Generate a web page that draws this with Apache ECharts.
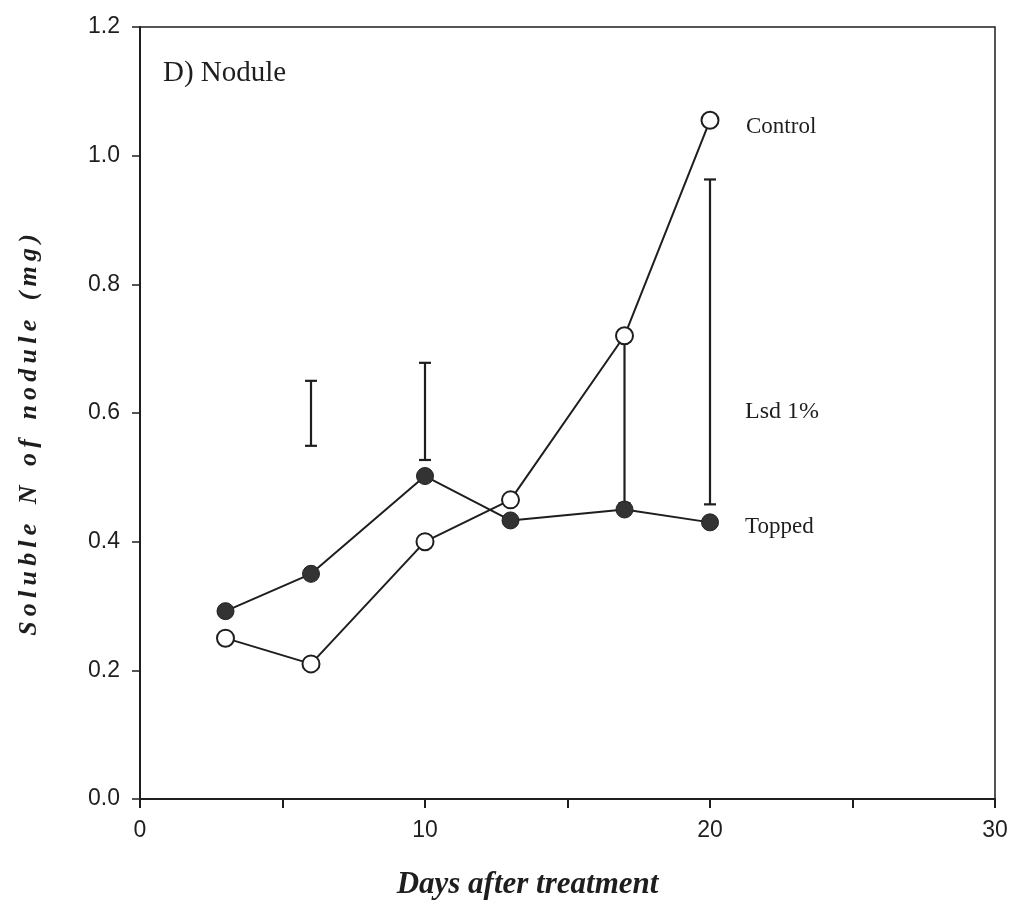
<!DOCTYPE html>
<html lang="en">
<head>
<meta charset="UTF-8">
<title>Soluble N of nodule</title>
<style>
  html, body { margin: 0; padding: 0; background: #fff; }
</style>
</head>
<body>
<div id="main" style="width: 1014px; height: 913px;"></div>

<script src="https://cdn.jsdelivr.net/npm/echarts@6/dist/echarts.min.js"></script>
<script>
// days after treatment
var days = [3, 6, 10, 13, 17, 20];
// soluble N of nodule (mg)
var control = [0.25, 0.21, 0.40, 0.465, 0.72, 1.055];
var topped = [0.292, 0.35, 0.502, 0.433, 0.45, 0.43];
// Lsd 1% bars
var lsdDays = [6, 10, 17, 20];
var lsdLow = [0.549, 0.527, 0.46, 0.458];
var lsdHigh = [0.65, 0.678, 0.72, 0.963];
var yTicks = [0, 0.2, 0.4, 0.6, 0.8, 1.0, 1.2];

var serif = '"Liberation Serif", "DejaVu Serif", serif';
var sans = '"Liberation Sans", Arial, sans-serif';
var ink = '#1e1e1e';

var myChart = echarts.init(document.getElementById('main'));

function pairs(xs, ys) {
    var out = [];
    for (var i = 0; i < xs.length; i++) out.push([xs[i], ys[i]]);
    return out;
}

// spread the letters a little, like the typeset original
function spaced(s) {
    return s.split('').join('\u2009');
}

var lsdData = [];
for (var i = 0; i < lsdDays.length; i++) {
    lsdData.push([lsdDays[i], lsdLow[i], lsdHigh[i]]);
}

function note(text, x, y, size) {
    return {
        type: 'text', x: x, y: y,
        style: { text: text, font: size + 'px ' + serif, fill: ink, verticalAlign: 'middle' }
    };
}

option = {
    animation: false,
    backgroundColor: '#fff',
    grid: {
        left: 140,
        right: 19,
        top: 27,
        bottom: 114,
        show: true,
        borderColor: ink,
        borderWidth: 1.5
    },
    xAxis: {
        type: 'value',
        min: 0,
        max: 30,
        interval: 5,
        name: 'Days after treatment',
        nameLocation: 'middle',
        nameGap: 70,
        nameTextStyle: {
            fontFamily: serif,
            fontStyle: 'italic',
            fontWeight: 'bold',
            fontSize: 31,
            color: ink,
            padding: [0, 80, 0, 0]
        },
        axisLine: { lineStyle: { color: ink, width: 2 } },
        axisTick: { inside: false, length: 9, lineStyle: { color: ink, width: 2 } },
        axisLabel: {
            margin: 20,
            fontFamily: sans,
            fontSize: 23,
            color: ink,
            formatter: function (v) {
                return v % 10 === 0 ? String(v) : '';
            }
        },
        splitLine: { show: false }
    },
    yAxis: {
        type: 'value',
        min: 0,
        max: 1.2,
        interval: 0.2,
        name: spaced('Soluble') + '   N   ' + spaced('of') + '   ' + spaced('nodule') + '   ' + spaced('(mg)'),
        nameLocation: 'middle',
        nameGap: 98,
        nameRotate: 90,
        nameTextStyle: {
            fontFamily: serif,
            fontStyle: 'italic',
            fontWeight: 'bold',
            fontSize: 26,
            color: ink,
            padding: [0, 44, 0, 0]
        },
        axisLine: { lineStyle: { color: ink, width: 2 } },
        axisTick: { length: 8, lineStyle: { color: ink, width: 1.5 } },
        axisLabel: {
            margin: 20,
            fontFamily: sans,
            fontSize: 23,
            color: ink,
            formatter: function (v) {
                return yTicks.indexOf(+v.toFixed(1)) >= 0 ? v.toFixed(1) : '';
            }
        },
        splitLine: { show: false }
    },
    series: [
        {
            name: 'Lsd 1%',
            type: 'custom',
            z: 1,
            data: lsdData,
            renderItem: function (params, api) {
                var x = api.value(0);
                var lo = api.coord([x, api.value(1)]);
                var hi = api.coord([x, api.value(2)]);
                var cap = 6;
                var st = { stroke: ink, lineWidth: 2.2 };
                return {
                    type: 'group',
                    children: [
                        { type: 'line', shape: { x1: lo[0], y1: lo[1], x2: hi[0], y2: hi[1] }, style: st },
                        { type: 'line', shape: { x1: lo[0] - cap, y1: lo[1], x2: lo[0] + cap, y2: lo[1] }, style: st },
                        { type: 'line', shape: { x1: hi[0] - cap, y1: hi[1], x2: hi[0] + cap, y2: hi[1] }, style: st }
                    ]
                };
            }
        },
        {
            name: 'Topped',
            type: 'line',
            z: 3,
            data: pairs(days, topped),
            symbol: 'circle',
            symbolSize: 17,
            lineStyle: { color: ink, width: 2 },
            itemStyle: { color: '#333', borderColor: '#222', borderWidth: 1 }
        },
        {
            name: 'Control',
            type: 'line',
            z: 4,
            data: pairs(days, control),
            symbol: 'circle',
            symbolSize: 17,
            lineStyle: { color: ink, width: 2 },
            itemStyle: { color: '#fff', borderColor: ink, borderWidth: 2 }
        }
    ],
    graphic: [
        note('D) Nodule', 163, 73, 29),
        note('Control', 746, 127, 23),
        note('Lsd 1%', 745, 412, 24),
        note('Topped', 745, 527, 23)
    ]
};

myChart.setOption(option);
</script>
</body>
</html>
